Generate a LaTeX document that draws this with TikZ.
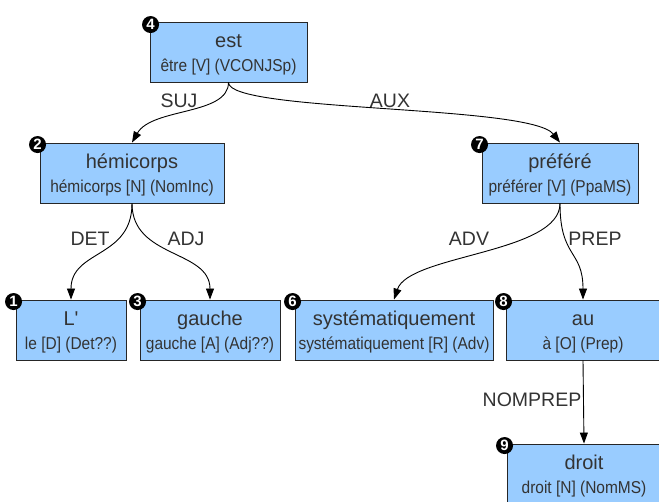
\documentclass[tikz,border=0pt]{standalone}
\usepackage{fontspec}
\setmainfont{Liberation Sans}
\newfontfamily\plainfont{Liberation Sans}
\newfontfamily\subfont{Liberation Sans}[FakeStretch=0.9]
\usetikzlibrary{arrows.meta}
\definecolor{boxfill}{HTML}{99CCFF}
\definecolor{txt}{HTML}{333333}
\tikzset{
  box/.style={draw=black!85, fill=boxfill, line width=0.9pt, rectangle, inner sep=0pt, minimum height=60pt},
  maintxt/.style={anchor=base, text=txt, inner sep=0pt, font=\plainfont\fontsize{20}{24}\selectfont},
  subtxt/.style={anchor=base, text=txt, inner sep=0pt, font=\subfont\fontsize{17.2}{18}\selectfont},
  badge/.style={circle, fill=black, text=white, inner sep=0pt, minimum size=17pt, font=\bfseries\fontsize{15}{15}\selectfont},
  edge/.style={draw=black, line width=0.9pt, -{Triangle[length=11pt,width=8pt]}},
  elabel/.style={text=txt, inner sep=0pt, font=\fontsize{19.5}{22}\selectfont},
}
\begin{document}
\begin{tikzpicture}[x=1pt,y=-1pt]
\clip (0,0) rectangle (659,502);
\fill[white] (0,0) rectangle (659,502);

% boxes
\node[box, minimum width=157pt] (n4) at (228.5,52) {};
\node[box, minimum width=184pt] (n2) at (132,173) {};
\node[box, minimum width=156pt] (n7) at (560,173) {};
\node[box, minimum width=110pt] (n1) at (71,330) {};
\node[box, minimum width=140pt] (n3) at (210,330) {};
\node[box, minimum width=198pt] (n6) at (394,330) {};
\node[box, minimum width=154pt] (n8) at (583,330) {};
\node[box, minimum width=154pt] (n9) at (584,474) {};

% texts
\node[maintxt] (t4a) at ([yshift=-26pt]n4.north) {est};
\node[subtxt]  (t4b) at ([yshift=-50pt]n4.north) {être [V] (VCONJSp)};
\node[maintxt] (t2a) at ([yshift=-26pt]n2.north) {hémicorps};
\node[subtxt]  (t2b) at ([yshift=-50pt]n2.north) {hémicorps [N] (NomInc)};
\node[maintxt] (t7a) at ([yshift=-26pt]n7.north) {préféré};
\node[subtxt]  (t7b) at ([yshift=-50pt]n7.north) {préférer [V] (PpaMS)};
\node[maintxt] (t1a) at ([yshift=-26pt]n1.north) {L'};
\node[subtxt]  (t1b) at ([yshift=-50pt]n1.north) {le [D] (Det??)};
\node[maintxt] (t3a) at ([yshift=-26pt]n3.north) {gauche};
\node[subtxt]  (t3b) at ([yshift=-50pt]n3.north) {gauche [A] (Adj??)};
\node[maintxt] (t6a) at ([yshift=-26pt]n6.north) {systématiquement};
\node[subtxt]  (t6b) at ([yshift=-50pt]n6.north) {systématiquement [R] (Adv)};
\node[maintxt] (t8a) at ([yshift=-26pt]n8.north) {au};
\node[subtxt]  (t8b) at ([yshift=-50pt]n8.north) {à [O] (Prep)};
\node[maintxt] (t9a) at ([yshift=-26pt]n9.north) {droit};
\node[subtxt]  (t9b) at ([yshift=-50pt]n9.north) {droit [N] (NomMS)};

% badges
\node[badge] (b4) at ([xshift=1pt,yshift=-3pt]n4.north west) {4};
\node[badge] (b2) at ([xshift=-2pt,yshift=-2pt]n2.north west) {2};
\node[badge] (b7) at ([xshift=-2pt,yshift=-2pt]n7.north west) {7};
\node[badge] (b1) at ([xshift=-2pt,yshift=-2pt]n1.north west) {1};
\node[badge] (b3) at ([xshift=-2pt,yshift=-2pt]n3.north west) {3};
\node[badge] (b6) at ([xshift=-2pt,yshift=-2pt]n6.north west) {6};
\node[badge] (b8) at ([xshift=-2pt,yshift=-2pt]n8.north west) {8};
\node[badge] (b9) at ([xshift=-2pt,yshift=-2pt]n9.north west) {9};

% edges
\draw[edge] (n4.south) .. controls +(0,33) and +(20,-35) .. (n2.north);
\draw[edge] (n4.south) .. controls +(0,30) and +(-30,-38) .. (n7.north);
\draw[edge] (n2.south) .. controls +(0,55) and +(0,-50) .. (n1.north);
\draw[edge] (n2.south) .. controls +(0,55) and +(0,-50) .. (n3.north);
\draw[edge] (n7.south) .. controls +(0,50) and +(15,-45) .. (n6.north);
\draw[edge] (n7.south) .. controls +(0,55) and +(0,-50) .. (n8.north);
\draw[edge] (n8.south) -- (n9.north);

% edge labels
\node[elabel] (lsuj) at (179,101) {SUJ};
\node[elabel] (laux) at (390,101) {AUX};
\node[elabel] (ldet) at (90,239) {DET};
\node[elabel] (ladj) at (186,239) {ADJ};
\node[elabel] (ladv) at (469,239) {ADV};
\node[elabel] (lprep) at (595,239) {PREP};
\node[elabel] (lnom) at (532,400) {NOMPREP};
\end{tikzpicture}
\end{document}
